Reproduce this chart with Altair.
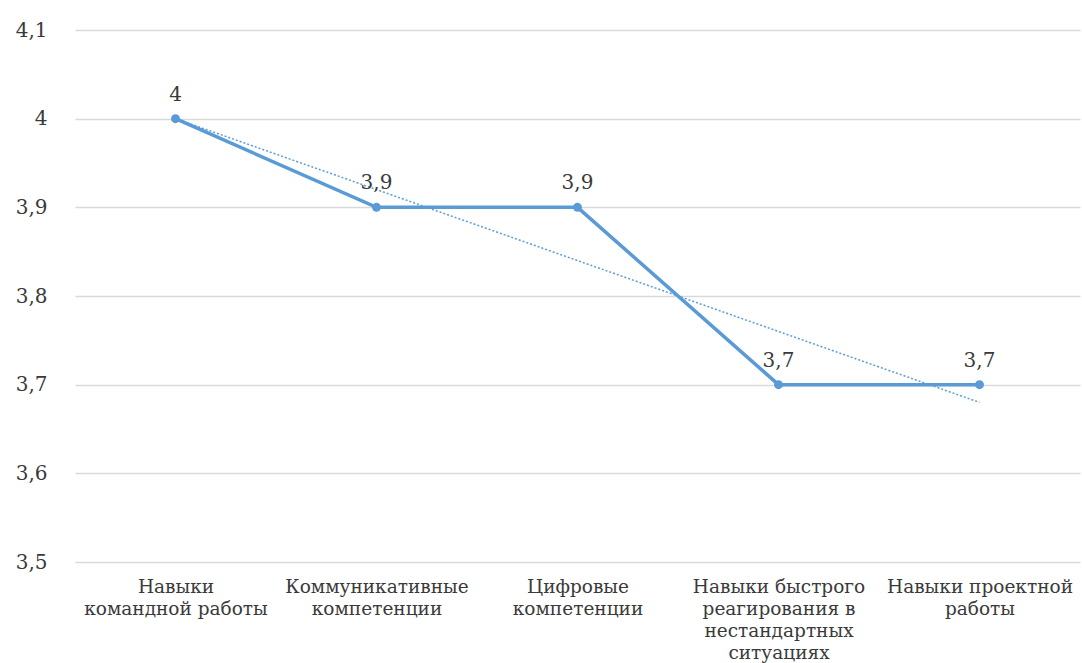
import json
import altair as alt
import pandas as pd

# Skill categories (each entry is a list of label lines) and mean scores
categories = [
    ["Навыки", "командной работы"],
    ["Коммуникативные", "компетенции"],
    ["Цифровые", "компетенции"],
    ["Навыки быстрого", "реагирования в", "нестандартных", "ситуациях"],
    ["Навыки проектной", "работы"],
]
scores = [4.0, 3.9, 3.9, 3.7, 3.7]
y_ticks = [3.5, 3.6, 3.7, 3.8, 3.9, 4.0, 4.1]

df = pd.DataFrame({
    "idx": list(range(len(scores))),
    "name": [" ".join(c) for c in categories],
    "score": scores,
})

BLUE = "#5b9bd5"
FONT = "DejaVu Serif"
TEXT = "#3a3a3a"

label_expr = json.dumps(categories, ensure_ascii=False) + "[datum.value]"

x_enc = alt.X(
    "idx:Q",
    scale=alt.Scale(domain=[-0.5, len(scores) - 0.5], nice=False, zero=False),
    axis=alt.Axis(
        values=list(range(len(scores))),
        labelExpr=label_expr,
        title=None,
        grid=False,
        ticks=False,
        domain=False,
        labelFont=FONT,
        labelFontSize=18.5,
        labelColor=TEXT,
        labelLineHeight=22,
        labelPadding=15,
        labelBaseline="top",
        labelAngle=0,
        labelOverlap=False,
        labelFlush=False,
        labelLimit=400,
    ),
)
y_enc = alt.Y(
    "score:Q",
    scale=alt.Scale(domain=[3.5, 4.1], nice=False, zero=False),
    axis=alt.Axis(
        values=y_ticks,
        labelExpr="replace(format(datum.value, '.2~r'), '.', ',')",
        title=None,
        ticks=False,
        domain=False,
        grid=True,
        gridColor="#d9d9d9",
        gridWidth=1.5,
        labelFont=FONT,
        labelFontSize=20,
        labelColor=TEXT,
        labelPadding=28,
    ),
)

base = alt.Chart(df)

line = base.mark_line(color=BLUE, strokeWidth=3.5).encode(x=x_enc, y=y_enc)
points = base.mark_point(filled=True, color=BLUE, size=80, opacity=1).encode(x="idx:Q", y="score:Q")

trend = (
    base.transform_regression("idx", "score", method="linear", extent=[0, len(scores) - 1])
    .mark_line(color=BLUE, strokeWidth=1.5, strokeDash=[2, 2])
    .encode(x="idx:Q", y="score:Q")
)

labels = base.mark_text(
    font=FONT, fontSize=20, color=TEXT, dy=-18, baseline="alphabetic", align="center"
).encode(
    x="idx:Q",
    y="score:Q",
    text=alt.Text("score_label:N"),
).transform_calculate(
    score_label="replace(format(datum.score, '.2~r'), '.', ',')"
)

chart = (
    alt.layer(line, trend, points, labels)
    .properties(
        width=1005,
        height=532,
        autosize=alt.AutoSizeParams(type="none"),
        padding={"left": 75, "top": 30, "right": 2, "bottom": 101},
        background="white",
    )
    .configure_view(stroke=None)
)

chart.save("out.html", embed_options={"renderer": "svg", "actions": False})
